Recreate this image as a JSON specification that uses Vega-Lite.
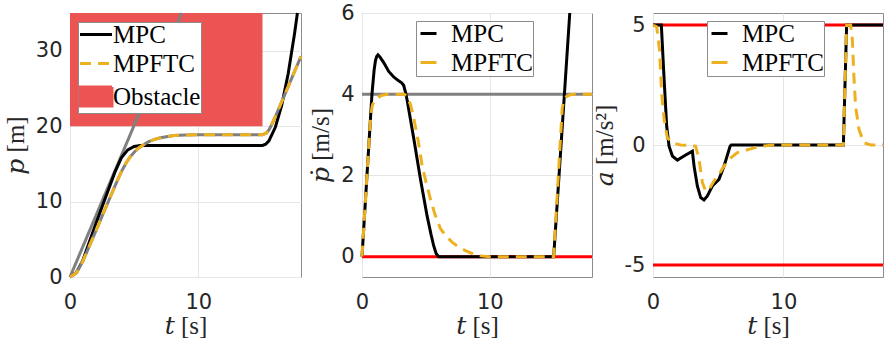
{
  "$schema": "https://vega.github.io/schema/vega-lite/v6.json",
  "padding": {"left": 2, "top": 1, "right": 0, "bottom": 0},
  "background": "white",
  "datasets": {
    "obst": [{"t": 0, "t2": 15, "y": 20, "y2": 35, "series": "Obstacle"}],
    "hl": [
      {"panel": "p", "kind": "ref", "t": 0, "y": 0}, {"panel": "p", "kind": "ref", "t": 8.7, "y": 35},
      {"panel": "v", "kind": "ref", "t": 0, "y": 4}, {"panel": "v", "kind": "ref", "t": 18, "y": 4},
      {"panel": "v", "kind": "lim", "t": 0, "y": 0}, {"panel": "v", "kind": "lim", "t": 18, "y": 0},
      {"panel": "a", "kind": "hi", "t": 0, "y": 5}, {"panel": "a", "kind": "hi", "t": 17.64, "y": 5},
      {"panel": "a", "kind": "lo", "t": 0, "y": -5}, {"panel": "a", "kind": "lo", "t": 17.64, "y": -5}
    ],
    "traj": [
      {"panel":"p","series":"MPC","t":0,"y":0},{"panel":"p","series":"MPC","t":0.5,"y":0.6},{"panel":"p","series":"MPC","t":1.0,"y":2.2},{"panel":"p","series":"MPC","t":1.5,"y":4.6},{"panel":"p","series":"MPC","t":2.0,"y":7.0},{"panel":"p","series":"MPC","t":2.5,"y":9.3},{"panel":"p","series":"MPC","t":3.0,"y":11.6},{"panel":"p","series":"MPC","t":3.5,"y":13.9},{"panel":"p","series":"MPC","t":4.0,"y":15.8},{"panel":"p","series":"MPC","t":4.5,"y":16.85},{"panel":"p","series":"MPC","t":5.0,"y":17.3},{"panel":"p","series":"MPC","t":5.5,"y":17.42},{"panel":"p","series":"MPC","t":6.0,"y":17.45},{"panel":"p","series":"MPC","t":15.0,"y":17.45},{"panel":"p","series":"MPC","t":15.25,"y":17.6},{"panel":"p","series":"MPC","t":15.5,"y":18.05},{"panel":"p","series":"MPC","t":16.0,"y":19.85},{"panel":"p","series":"MPC","t":16.5,"y":22.8},{"panel":"p","series":"MPC","t":17.0,"y":26.95},{"panel":"p","series":"MPC","t":17.5,"y":32.3},{"panel":"p","series":"MPC","t":17.72,"y":35.0},
      {"panel":"p","series":"MPFTC","t":0,"y":0},{"panel":"p","series":"MPFTC","t":0.5,"y":0.55},{"panel":"p","series":"MPFTC","t":1.0,"y":2.1},{"panel":"p","series":"MPFTC","t":1.5,"y":4.05},{"panel":"p","series":"MPFTC","t":2.0,"y":6.05},{"panel":"p","series":"MPFTC","t":2.5,"y":8.05},{"panel":"p","series":"MPFTC","t":3.0,"y":10.05},{"panel":"p","series":"MPFTC","t":3.3,"y":11.25},{"panel":"p","series":"MPFTC","t":3.5,"y":12.05},{"panel":"p","series":"MPFTC","t":3.8,"y":13.2},{"panel":"p","series":"MPFTC","t":4.05,"y":14.1},{"panel":"p","series":"MPFTC","t":4.4,"y":15.2},{"panel":"p","series":"MPFTC","t":4.7,"y":15.95},{"panel":"p","series":"MPFTC","t":5.0,"y":16.55},{"panel":"p","series":"MPFTC","t":5.35,"y":17.1},{"panel":"p","series":"MPFTC","t":5.7,"y":17.5},{"panel":"p","series":"MPFTC","t":6.14,"y":17.95},{"panel":"p","series":"MPFTC","t":6.6,"y":18.25},{"panel":"p","series":"MPFTC","t":7.05,"y":18.45},{"panel":"p","series":"MPFTC","t":7.5,"y":18.6},{"panel":"p","series":"MPFTC","t":8.1,"y":18.75},{"panel":"p","series":"MPFTC","t":9.0,"y":18.83},{"panel":"p","series":"MPFTC","t":10.0,"y":18.85},{"panel":"p","series":"MPFTC","t":15.0,"y":18.85},{"panel":"p","series":"MPFTC","t":15.3,"y":19.1},{"panel":"p","series":"MPFTC","t":15.5,"y":19.5},{"panel":"p","series":"MPFTC","t":15.67,"y":20.05},{"panel":"p","series":"MPFTC","t":16.0,"y":21.25},{"panel":"p","series":"MPFTC","t":16.5,"y":23.25},{"panel":"p","series":"MPFTC","t":17.0,"y":25.25},{"panel":"p","series":"MPFTC","t":17.5,"y":27.25},{"panel":"p","series":"MPFTC","t":18.0,"y":29.25},
      {"panel":"v","series":"MPC","t":0,"y":0},{"panel":"v","series":"MPC","t":0.78,"y":4.0},{"panel":"v","series":"MPC","t":0.95,"y":4.6},{"panel":"v","series":"MPC","t":1.05,"y":4.82},{"panel":"v","series":"MPC","t":1.15,"y":4.93},{"panel":"v","series":"MPC","t":1.25,"y":4.97},{"panel":"v","series":"MPC","t":1.4,"y":4.92},{"panel":"v","series":"MPC","t":1.7,"y":4.78},{"panel":"v","series":"MPC","t":2.09,"y":4.56},{"panel":"v","series":"MPC","t":2.5,"y":4.42},{"panel":"v","series":"MPC","t":2.87,"y":4.33},{"panel":"v","series":"MPC","t":3.1,"y":4.28},{"panel":"v","series":"MPC","t":3.26,"y":4.22},{"panel":"v","series":"MPC","t":3.4,"y":4.05},{"panel":"v","series":"MPC","t":3.53,"y":3.86},{"panel":"v","series":"MPC","t":4.05,"y":2.91},{"panel":"v","series":"MPC","t":4.57,"y":1.92},{"panel":"v","series":"MPC","t":5.09,"y":1.01},{"panel":"v","series":"MPC","t":5.4,"y":0.55},{"panel":"v","series":"MPC","t":5.61,"y":0.27},{"panel":"v","series":"MPC","t":5.8,"y":0.08},{"panel":"v","series":"MPC","t":6.0,"y":0},{"panel":"v","series":"MPC","t":15.0,"y":0},{"panel":"v","series":"MPC","t":16.26,"y":6.0},
      {"panel":"v","series":"MPFTC","t":0,"y":0},{"panel":"v","series":"MPFTC","t":0.6,"y":3.1},{"panel":"v","series":"MPFTC","t":0.7,"y":3.5},{"panel":"v","series":"MPFTC","t":0.8,"y":3.72},{"panel":"v","series":"MPFTC","t":1.0,"y":3.86},{"panel":"v","series":"MPFTC","t":1.5,"y":3.97},{"panel":"v","series":"MPFTC","t":2.0,"y":4.0},{"panel":"v","series":"MPFTC","t":3.3,"y":4.0},{"panel":"v","series":"MPFTC","t":3.5,"y":3.96},{"panel":"v","series":"MPFTC","t":3.8,"y":3.74},{"panel":"v","series":"MPFTC","t":4.05,"y":3.41},{"panel":"v","series":"MPFTC","t":4.4,"y":2.85},{"panel":"v","series":"MPFTC","t":4.7,"y":2.25},{"panel":"v","series":"MPFTC","t":5.0,"y":1.85},{"panel":"v","series":"MPFTC","t":5.35,"y":1.43},{"panel":"v","series":"MPFTC","t":5.7,"y":1.05},{"panel":"v","series":"MPFTC","t":6.14,"y":0.69},{"panel":"v","series":"MPFTC","t":6.6,"y":0.5},{"panel":"v","series":"MPFTC","t":7.05,"y":0.36},{"panel":"v","series":"MPFTC","t":7.5,"y":0.25},{"panel":"v","series":"MPFTC","t":8.1,"y":0.15},{"panel":"v","series":"MPFTC","t":8.7,"y":0.07},{"panel":"v","series":"MPFTC","t":9.3,"y":0.02},{"panel":"v","series":"MPFTC","t":10.0,"y":0},{"panel":"v","series":"MPFTC","t":15.0,"y":0},{"panel":"v","series":"MPFTC","t":15.67,"y":3.66},{"panel":"v","series":"MPFTC","t":15.8,"y":3.84},{"panel":"v","series":"MPFTC","t":16.0,"y":3.94},{"panel":"v","series":"MPFTC","t":16.3,"y":3.99},{"panel":"v","series":"MPFTC","t":16.6,"y":4.0},{"panel":"v","series":"MPFTC","t":18.0,"y":4.0},
      {"panel":"a","series":"MPC","t":0,"y":5},{"panel":"a","series":"MPC","t":0.64,"y":5},{"panel":"a","series":"MPC","t":0.84,"y":2.86},{"panel":"a","series":"MPC","t":1.05,"y":0.78},{"panel":"a","series":"MPC","t":1.23,"y":-0.05},{"panel":"a","series":"MPC","t":1.49,"y":-0.46},{"panel":"a","series":"MPC","t":1.87,"y":-0.63},{"panel":"a","series":"MPC","t":2.38,"y":-0.46},{"panel":"a","series":"MPC","t":3.02,"y":-0.26},{"panel":"a","series":"MPC","t":3.15,"y":-0.88},{"panel":"a","series":"MPC","t":3.4,"y":-1.71},{"panel":"a","series":"MPC","t":3.66,"y":-2.19},{"panel":"a","series":"MPC","t":3.91,"y":-2.29},{"panel":"a","series":"MPC","t":4.17,"y":-2.12},{"panel":"a","series":"MPC","t":4.55,"y":-1.71},{"panel":"a","series":"MPC","t":5.06,"y":-1.43},{"panel":"a","series":"MPC","t":5.45,"y":-0.88},{"panel":"a","series":"MPC","t":5.91,"y":-0.05},{"panel":"a","series":"MPC","t":6.0,"y":0},{"panel":"a","series":"MPC","t":14.6,"y":0},{"panel":"a","series":"MPC","t":14.85,"y":5},{"panel":"a","series":"MPC","t":17.64,"y":5},
      {"panel":"a","series":"MPFTC","t":0,"y":5},{"panel":"a","series":"MPFTC","t":0.28,"y":4.93},{"panel":"a","series":"MPFTC","t":0.5,"y":3.96},{"panel":"a","series":"MPFTC","t":0.66,"y":2.17},{"panel":"a","series":"MPFTC","t":0.86,"y":1.06},{"panel":"a","series":"MPFTC","t":1.1,"y":0.3},{"panel":"a","series":"MPFTC","t":1.49,"y":0.09},{"panel":"a","series":"MPFTC","t":2.12,"y":0.0},{"panel":"a","series":"MPFTC","t":3.0,"y":-0.02},{"panel":"a","series":"MPFTC","t":3.27,"y":-0.05},{"panel":"a","series":"MPFTC","t":3.53,"y":-0.6},{"panel":"a","series":"MPFTC","t":3.79,"y":-1.57},{"panel":"a","series":"MPFTC","t":4.04,"y":-1.92},{"panel":"a","series":"MPFTC","t":4.29,"y":-1.85},{"panel":"a","series":"MPFTC","t":4.68,"y":-1.5},{"panel":"a","series":"MPFTC","t":5.06,"y":-1.22},{"panel":"a","series":"MPFTC","t":5.45,"y":-0.88},{"panel":"a","series":"MPFTC","t":5.83,"y":-0.6},{"panel":"a","series":"MPFTC","t":6.47,"y":-0.32},{"panel":"a","series":"MPFTC","t":7.49,"y":-0.16},{"panel":"a","series":"MPFTC","t":8.3,"y":-0.05},{"panel":"a","series":"MPFTC","t":9.3,"y":0},{"panel":"a","series":"MPFTC","t":14.6,"y":0},{"panel":"a","series":"MPFTC","t":14.85,"y":5},{"panel":"a","series":"MPFTC","t":15.16,"y":5},{"panel":"a","series":"MPFTC","t":15.29,"y":4.38},{"panel":"a","series":"MPFTC","t":15.41,"y":2.85},{"panel":"a","series":"MPFTC","t":15.54,"y":1.61},{"panel":"a","series":"MPFTC","t":15.8,"y":0.64},{"panel":"a","series":"MPFTC","t":16.18,"y":0.09},{"panel":"a","series":"MPFTC","t":16.7,"y":0},{"panel":"a","series":"MPFTC","t":17.64,"y":0}
    ]
  },
  "config": {
    "view": {"stroke": "#8c8c8c", "strokeWidth": 1},
    "axis": {"labelFont": "DejaVu Sans", "labelFontSize": 21, "labelColor": "#262626", "titleFont": "Liberation Serif, DejaVu Serif", "titleFontSize": 25, "titleFontWeight": "normal", "titleColor": "#262626", "domain": false, "ticks": false, "grid": true, "gridColor": "#e6e6e6", "labelPadding": 8, "titlePadding": 7, "labelFlush": false, "labelOverlap": false},
    "axisX": {"labelPadding": 14, "titlePadding": 1},
    "legend": {"orient": "none", "title": null, "fillColor": "#ffffff", "strokeColor": "#8c8c8c", "padding": 0, "labelFont": "Liberation Serif", "labelFontSize": 25, "labelColor": "#000000", "symbolSize": 256, "symbolStrokeWidth": 3, "rowPadding": 3, "labelOffset": 10, "labelLimit": 300},
    "line": {"strokeWidth": 3, "clip": true}
  },
  "bounds": "flush",
  "spacing": 61,
  "resolve": {"scale": {"color": "independent", "x": "independent", "y": "independent"}, "legend": {"color": "independent"}},
  "hconcat": [
    {
      "width": 231, "height": 264,
      "encoding": {
        "x": {"field": "t", "type": "quantitative", "scale": {"domain": [0, 18], "nice": false, "zero": false}, "axis": {"values": [0, 10], "title": "𝑡 [s]"}},
        "y": {"field": "y", "type": "quantitative", "scale": {"domain": [0, 35], "nice": false, "zero": false}, "axis": {"values": [0, 10, 20, 30], "title": "𝑝 [m]"}}
      },
      "layer": [
        {"data": {"name": "obst"}, "mark": {"type": "rect", "clip": true},
         "encoding": {"x2": {"field": "t2"}, "y2": {"field": "y2"},
           "color": {"field": "series", "type": "nominal", "scale": {"domain": ["MPC", "MPFTC", "Obstacle"], "range": ["#000000", "#EDB120", "#EB5452"]},
             "legend": {"legendX": 8, "legendY": 9,
               "encode": {"symbols": {"update": {
                 "shape": {"signal": "datum.value === 'Obstacle' ? 'M-2,-1.2H2V1.2H-2Z' : 'M-2,0H2'"},
                 "x": {"value": 18},
                 "fill": {"signal": "datum.value === 'Obstacle' ? '#EB5452' : 'transparent'"},
                 "stroke": {"signal": "datum.value === 'Obstacle' ? 'transparent' : (datum.value === 'MPC' ? '#000000' : '#EDB120')"},
                 "strokeDash": {"signal": "datum.value === 'MPFTC' ? [11, 7] : [1, 0]"},
                 "strokeWidth": {"value": 3},
                 "opacity": {"value": 1}}}}}}}},
        {"data": {"name": "hl"}, "transform": [{"filter": "datum.panel === 'p'"}], "mark": {"type": "line", "color": "#808080"}, "encoding": {}},
        {"data": {"name": "traj"}, "transform": [{"filter": "datum.panel === 'p' && datum.series === 'MPC'"}], "mark": {"type": "line"},
         "encoding": {"color": {"field": "series", "type": "nominal", "scale": {"domain": ["MPC", "MPFTC", "Obstacle"], "range": ["#000000", "#EDB120", "#EB5452"]}}}},
        {"data": {"name": "traj"}, "transform": [{"filter": "datum.panel === 'p' && datum.series === 'MPFTC'"}], "mark": {"type": "line", "color": "#808080"}, "encoding": {}},
        {"data": {"name": "traj"}, "transform": [{"filter": "datum.panel === 'p' && datum.series === 'MPFTC'"}], "mark": {"type": "line", "strokeDash": [11, 7]},
         "encoding": {"color": {"field": "series", "type": "nominal", "scale": {"domain": ["MPC", "MPFTC", "Obstacle"], "range": ["#000000", "#EDB120", "#EB5452"]}}}}
      ]
    },
    {
      "width": 230, "height": 264,
      "encoding": {
        "x": {"field": "t", "type": "quantitative", "scale": {"domain": [0, 18], "nice": false, "zero": false}, "axis": {"values": [0, 10], "title": "𝑡 [s]"}},
        "y": {"field": "y", "type": "quantitative", "scale": {"domain": [-0.5, 6], "nice": false, "zero": false}, "axis": {"values": [0, 2, 4, 6], "title": "𝑝̇ [m/s]"}}
      },
      "layer": [
        {"data": {"name": "hl"}, "transform": [{"filter": "datum.panel === 'v' && datum.kind === 'lim'"}], "mark": {"type": "line", "color": "#ff0000"}, "encoding": {}},
        {"data": {"name": "hl"}, "transform": [{"filter": "datum.panel === 'v' && datum.kind === 'ref'"}], "mark": {"type": "line", "color": "#808080"}, "encoding": {}},
        {"data": {"name": "traj"}, "transform": [{"filter": "datum.panel === 'v' && datum.series === 'MPC'"}], "mark": {"type": "line"},
         "encoding": {"color": {"field": "series", "type": "nominal", "scale": {"domain": ["MPC", "MPFTC"], "range": ["#000000", "#EDB120"]},
           "legend": {"legendX": 54, "legendY": 8,
             "encode": {"symbols": {"update": {"shape": {"value": "M-2,0H2"}, "x": {"value": 18}, "fill": {"value": "transparent"}, "strokeDash": {"signal": "datum.value === 'MPFTC' ? [11, 7] : [1, 0]"}, "strokeWidth": {"value": 3}, "opacity": {"value": 1}}}}}}}},
        {"data": {"name": "traj"}, "transform": [{"filter": "datum.panel === 'v' && datum.series === 'MPFTC'"}], "mark": {"type": "line", "strokeDash": [11, 7]},
         "encoding": {"color": {"field": "series", "type": "nominal", "scale": {"domain": ["MPC", "MPFTC"], "range": ["#000000", "#EDB120"]}}}}
      ]
    },
    {
      "width": 230, "height": 264,
      "encoding": {
        "x": {"field": "t", "type": "quantitative", "scale": {"domain": [0, 17.64], "nice": false, "zero": false}, "axis": {"values": [0, 10], "title": "𝑡 [s]"}},
        "y": {"field": "y", "type": "quantitative", "scale": {"domain": [-5.5, 5.5], "nice": false, "zero": false}, "axis": {"values": [-5, 0, 5], "title": "𝑎 [m/s²]", "labelExpr": "datum.value < 0 ? '-' + format(-datum.value, 'd') : datum.label"}}
      },
      "layer": [
        {"data": {"name": "hl"}, "transform": [{"filter": "datum.panel === 'a'"}], "mark": {"type": "line", "color": "#ff0000"}, "encoding": {"detail": {"field": "kind"}}},
        {"data": {"name": "traj"}, "transform": [{"filter": "datum.panel === 'a' && datum.series === 'MPC'"}], "mark": {"type": "line"},
         "encoding": {"color": {"field": "series", "type": "nominal", "scale": {"domain": ["MPC", "MPFTC"], "range": ["#000000", "#EDB120"]},
           "legend": {"legendX": 54, "legendY": 8,
             "encode": {"symbols": {"update": {"shape": {"value": "M-2,0H2"}, "x": {"value": 18}, "fill": {"value": "transparent"}, "strokeDash": {"signal": "datum.value === 'MPFTC' ? [11, 7] : [1, 0]"}, "strokeWidth": {"value": 3}, "opacity": {"value": 1}}}}}}}},
        {"data": {"name": "traj"}, "transform": [{"filter": "datum.panel === 'a' && datum.series === 'MPFTC'"}], "mark": {"type": "line", "strokeDash": [11, 7]},
         "encoding": {"color": {"field": "series", "type": "nominal", "scale": {"domain": ["MPC", "MPFTC"], "range": ["#000000", "#EDB120"]}}}}
      ]
    }
  ]
}
